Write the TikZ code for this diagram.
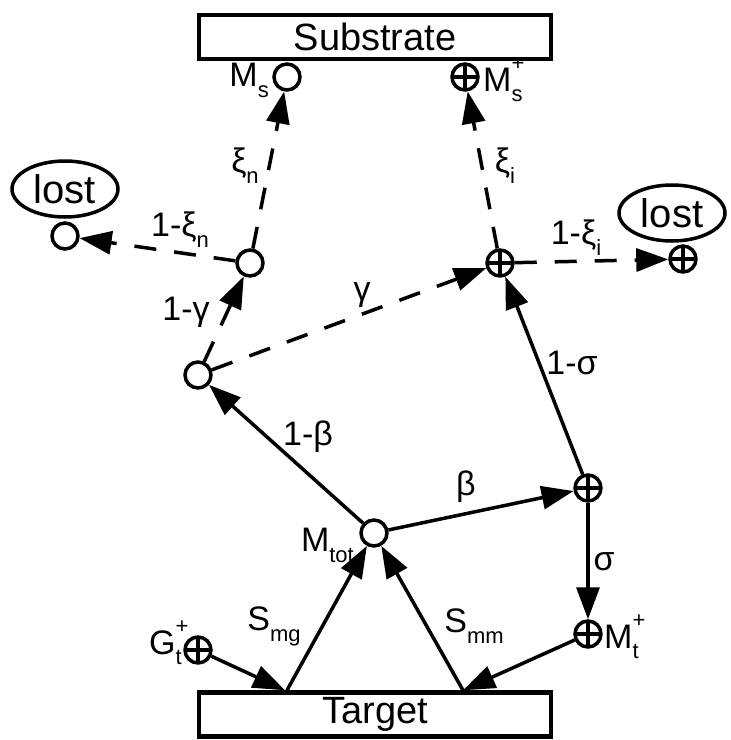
\documentclass[tikz,border=0pt]{standalone}
\usepackage{fontspec}
\setmainfont{Liberation Sans}
\usetikzlibrary{arrows.meta,shapes.geometric}
\newcommand\lsub[1]{\raisebox{-0.32em}{\fontsize{22}{22}\selectfont #1}}
\newcommand\lsubsup[2]{\makebox[0pt][l]{\raisebox{0.6em}{\fontsize{22}{22}\selectfont #2}}\raisebox{-0.32em}{\fontsize{22}{22}\selectfont #1}}
\begin{document}
\begin{tikzpicture}[x=1pt,y=-1pt,
  box/.style={draw,line width=4.5pt,minimum width=352pt,minimum height=44pt,inner sep=0pt,font=\fontsize{38}{40}\selectfont},
  neut/.style={draw,circle,line width=3.5pt,minimum size=26pt,inner sep=0pt,fill=white},
  ion/.style={neut,path picture={\draw[line width=3.5pt] (path picture bounding box.north)--(path picture bounding box.south) (path picture bounding box.west)--(path picture bounding box.east);}},
  lostbox/.style={draw,ellipse,line width=3.5pt,minimum width=106pt,minimum height=56pt,inner sep=0pt,font=\fontsize{40}{42}\selectfont},
  lbl/.style={inner sep=0pt,font=\fontsize{34}{36}\selectfont},
  sol/.style={line width=3.5pt,-{Triangle[length=32pt,width=23pt]}},
  dsh/.style={sol,dash pattern=on 22pt off 18pt}]
\useasboundingbox (0,0) rectangle (731,740);
% boxes
\node[box] (sub) at (375,37) {Substrate};
\node[box] (tgt) at (375,714.5) {Target};
\node[lostbox] (eL) at (65,189) {lost};
\node[lostbox] (eR) at (672,213) {lost};
% particles
\node[neut] (ms) at (287,77) {};
\node[ion] (msp) at (465,77) {};
\node[neut] (nm) at (250,263) {};
\node[ion] (ic) at (500,263) {};
\node[neut] (nl) at (198,375) {};
\node[neut] (lostL) at (65,236) {};
\node[ion] (lostR) at (683,259) {};
\node[ion] (ilr) at (588,488) {};
\node[neut] (mtot) at (374,533) {};
\node[ion] (mt) at (588,634) {};
\node[ion] (gt) at (198,650) {};
% solid connectors
\draw[sol] ([xshift=-88pt]tgt.north) -- (mtot);
\draw[sol] ([xshift=88pt]tgt.north) -- (mtot);
\draw[sol] (gt) -- ([xshift=-90pt]tgt.north);
\draw[sol] (mt) -- ([xshift=88pt]tgt.north);
\draw[sol] (mtot) -- (ilr);
\draw[sol] (ilr) -- (mt);
\draw[sol] (ilr) -- (ic);
\draw[sol] (mtot) -- (nl);
% dashed connectors
\draw[dsh] (nl) -- (nm);
\draw[dsh] (nl) -- (ic);
\draw[dsh] (nm) -- (ms);
\draw[dsh] (nm) -- (lostL);
\draw[dsh] (ic) -- (msp);
\draw[dsh] (ic) -- (lostR);
% labels
\node[lbl,anchor=east] (lms) at (269,80) {M\lsub{s}};
\node[lbl,anchor=west] (lmsp) at (483,80) {M\lsubsup{s}{+}};
\node[lbl] (lxn) at (245,166) {ξ\lsub{n}};
\node[lbl] (lxi) at (505,166) {ξ\lsub{i}};
\node[lbl] (l1xn) at (180,230) {1-ξ\lsub{n}};
\node[lbl] (l1g) at (186,312) {1-γ};
\node[lbl] (lg) at (362,295) {γ};
\node[lbl] (l1xi) at (576,238) {1-ξ\lsub{i}};
\node[lbl] (l1s) at (572,363) {1-σ};
\node[lbl] (l1b) at (308,437) {1-β};
\node[lbl] (lb) at (466,487) {β};
\node[lbl,anchor=east] (lmtot) at (354,545) {M\lsub{tot}};
\node[lbl] (ls) at (604,562) {σ};
\node[lbl] (lsmg) at (274,626) {S\lsub{mg}};
\node[lbl] (lsmm) at (474,626) {S\lsub{mm}};
\node[lbl,anchor=east] (lgt) at (182,643) {G\lsubsup{t}{+}\hspace{10pt}};
\node[lbl,anchor=west] (lmt) at (604,637) {M\lsubsup{t}{+}};
\end{tikzpicture}
\end{document}
